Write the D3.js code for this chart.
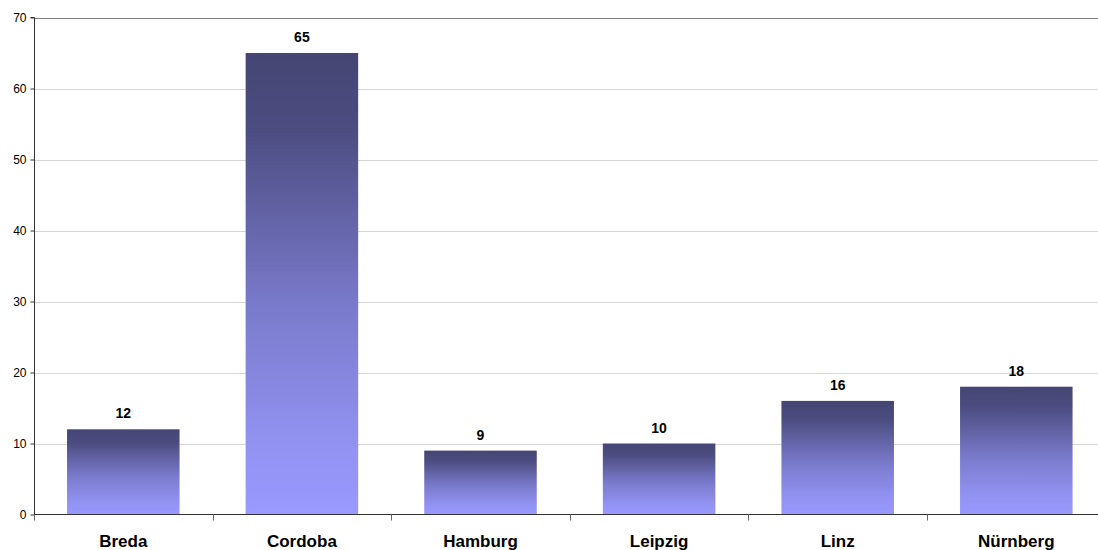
<!DOCTYPE html>
<html>
<head>
<meta charset="utf-8">
<script src="https://cdn.jsdelivr.net/npm/d3@7"></script>
<style>
  html, body { margin: 0; padding: 0; background: #fff; overflow: hidden; }
  text { font-family: "Liberation Sans", Arial, sans-serif; }
</style>
</head>
<body>
<svg id="chart" width="1098" height="550"></svg>
<script>
const cities = ["Breda", "Cordoba", "Hamburg", "Leipzig", "Linz", "Nürnberg"];
const counts = [12, 65, 9, 10, 16, 18];
const yTicks = [0, 10, 20, 30, 40, 50, 60, 70];

const svg = d3.select("#chart");
const plotLeft = 34, plotTop = 17.5, plotBottom = 514.5;
const bandStep = 178.6;
const plotRight = plotLeft + bandStep * cities.length;

const x = d3.scaleBand().domain(cities).range([plotLeft, plotRight]).paddingInner(0.37).paddingOuter(0.185);
const y = d3.scaleLinear().domain([0, 70]).range([plotBottom, plotTop]);

const defs = svg.append("defs");
const grad = defs.append("linearGradient")
  .attr("id", "barFill").attr("x1", 0).attr("y1", 0).attr("x2", 0).attr("y2", 1);
[["0%", "#464674"], ["15%", "#4b4b7f"], ["55%", "#7a7acc"], ["85%", "#9292f2"], ["100%", "#9999ff"]]
  .forEach(([o, c]) => grad.append("stop").attr("offset", o).attr("stop-color", c));

// horizontal gridlines
svg.append("g").selectAll("line")
  .data(yTicks.filter(d => d > 0 && d < 70))
  .join("line")
  .attr("x1", plotLeft).attr("x2", 1098)
  .attr("y1", d => Math.round(y(d)) + 0.5).attr("y2", d => Math.round(y(d)) + 0.5)
  .attr("stroke", "#d6d6d6").attr("stroke-width", 1);

// top border line
svg.append("line")
  .attr("x1", plotLeft).attr("x2", 1098)
  .attr("y1", Math.round(y(70)) + 0.5).attr("y2", Math.round(y(70)) + 0.5)
  .attr("stroke", "#808080").attr("stroke-width", 1);

// bars
svg.append("g").selectAll("rect")
  .data(cities)
  .join("rect")
  .attr("x", d => x(d))
  .attr("width", x.bandwidth())
  .attr("y", (d, i) => y(counts[i]))
  .attr("height", (d, i) => plotBottom - y(counts[i]))
  .attr("fill", "url(#barFill)");

// value labels
svg.append("g").selectAll("text")
  .data(cities)
  .join("text")
  .attr("x", d => x(d) + x.bandwidth() / 2)
  .attr("y", (d, i) => y(counts[i]) - 11)
  .attr("text-anchor", "middle")
  .attr("font-size", 14).attr("font-weight", "bold").attr("fill", "#000")
  .text((d, i) => counts[i]);

// y axis
const yAxis = d3.axisLeft(y).tickValues(yTicks).tickSize(4).tickPadding(4);
const gy = svg.append("g").attr("transform", `translate(${plotLeft + 0.5},0)`).call(yAxis);
gy.select(".domain").attr("stroke", "#333").attr("d", `M-4,${plotTop}H0V${plotBottom}`);
gy.selectAll(".tick line").attr("stroke", "#333");
gy.selectAll(".tick text").attr("font-size", 12).attr("fill", "#000")
  .attr("font-family", "Liberation Sans, Arial, sans-serif");

// x axis with ticks between categories
svg.append("line")
  .attr("x1", plotLeft).attr("x2", 1098)
  .attr("y1", plotBottom).attr("y2", plotBottom)
  .attr("stroke", "#333").attr("stroke-width", 1);
const boundaries = d3.range(0, cities.length + 1).map(i => plotLeft + i * bandStep);
svg.append("g").selectAll("line")
  .data(boundaries)
  .join("line")
  .attr("x1", d => Math.round(d) + 0.5).attr("x2", d => Math.round(d) + 0.5)
  .attr("y1", plotBottom).attr("y2", plotBottom + 6)
  .attr("stroke", "#666");

svg.append("g").selectAll("text")
  .data(cities)
  .join("text")
  .attr("x", d => x(d) + x.bandwidth() / 2)
  .attr("y", 546.5)
  .attr("text-anchor", "middle")
  .attr("font-size", 17).attr("font-weight", "bold").attr("fill", "#000")
  .text(d => d);
</script>
</body>
</html>
